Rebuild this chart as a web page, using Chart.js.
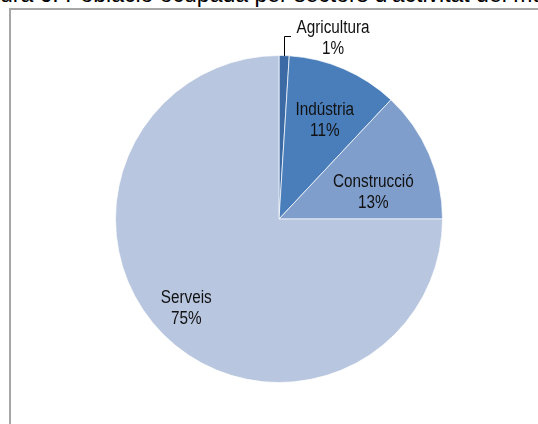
<!DOCTYPE html>
<html>
<head>
<meta charset="utf-8">
<script src="https://cdn.jsdelivr.net/npm/chart.js@4.4.1/dist/chart.umd.min.js"></script>
<style>
  html, body { margin: 0; padding: 0; background: #fff; overflow: hidden; }
  #wrap { position: relative; width: 538px; height: 424px; overflow: hidden; }
  #title {
    position: absolute; left: -32px; top: -17px; white-space: nowrap;
    font-family: 'Liberation Sans', Arial, sans-serif; font-size: 23px; line-height: 23px; color: #000;
  }
  #frame {
    position: absolute; left: 9px; top: 8px; width: 600px; height: 500px;
    border-left: 2px solid #a6a6a6; border-top: 2px solid #a6a6a6;
  }
  #c { position: absolute; left: 0; top: 0; }
</style>
</head>
<body>
<div id="wrap">
  <div id="title">Figura 6. Població ocupada per sectors d'activitat del municipi</div>
  <div id="frame"></div>
  <canvas id="c" width="538" height="424"></canvas>
</div>
<script>
var sectors = ['Agricultura', 'Indústria', 'Construcció', 'Serveis'];
var percents = [1, 11, 13, 75];
var colors = ['#3c6aa4', '#4a7ebb', '#7f9ecb', '#b8c6df'];

// label placement inside each slice: fraction of radius and angle nudge (deg);
// 0 radius = outside with leader line
var labelRadius = [0, 0.665, 0.6, 0.785];
var labelTurn = [0, 1.5, 7.4, 1.3];

var FONT = "18px 'Liberation Sans', Arial, sans-serif";
var SQUEEZE = 0.85;

function narrowText(ctx, s, x, y) {
    ctx.save();
    ctx.translate(x, y);
    ctx.scale(SQUEEZE, 1);
    ctx.fillText(s, 0, 0);
    ctx.restore();
}

var sliceLabels = {
    id: 'sliceLabels',
    afterDatasetsDraw: function(chart) {
        var ctx = chart.ctx;
        var arcs = chart.getDatasetMeta(0).data;
        ctx.save();
        ctx.font = FONT;
        ctx.fillStyle = '#111';
        ctx.textAlign = 'center';
        ctx.textBaseline = 'middle';
        arcs.forEach(function(arc, i) {
            var mid = (arc.startAngle + arc.endAngle) / 2;
            var x, y;
            if (labelRadius[i] > 0) {
                var a = mid + labelTurn[i] * Math.PI / 180;
                var r = arc.outerRadius * labelRadius[i];
                x = arc.x + Math.cos(a) * r;
                y = arc.y + Math.sin(a) * r;
            } else {
                // outside label, leader line goes up from the rim
                var px = Math.round(arc.x + Math.cos(mid) * arc.outerRadius);
                var py = Math.round(arc.y + Math.sin(mid) * arc.outerRadius);
                ctx.strokeStyle = '#000';
                ctx.lineWidth = 1;
                ctx.beginPath();
                ctx.moveTo(px + 0.5, py);
                ctx.lineTo(px + 0.5, py - 19.5);
                ctx.lineTo(px + 7, py - 19.5);
                ctx.stroke();
                x = px + 49;
                y = py - 18;
            }
            narrowText(ctx, sectors[i], x, y - 10);
            narrowText(ctx, percents[i] + '%', x, y + 11);
        });
        ctx.restore();
    }
};

new Chart(document.getElementById('c'), {
    type: 'pie',
    data: {
        labels: sectors,
        datasets: [{
            data: percents,
            backgroundColor: colors,
            borderColor: 'rgba(255,255,255,0.7)',
            borderWidth: 1
        }]
    },
    options: {
        responsive: false,
        animation: false,
        layout: { padding: { top: 55, bottom: 41, left: 115, right: 95 } },
        plugins: {
            legend: { display: false },
            tooltip: { enabled: false }
        }
    },
    plugins: [sliceLabels]
});
</script>
</body>
</html>
